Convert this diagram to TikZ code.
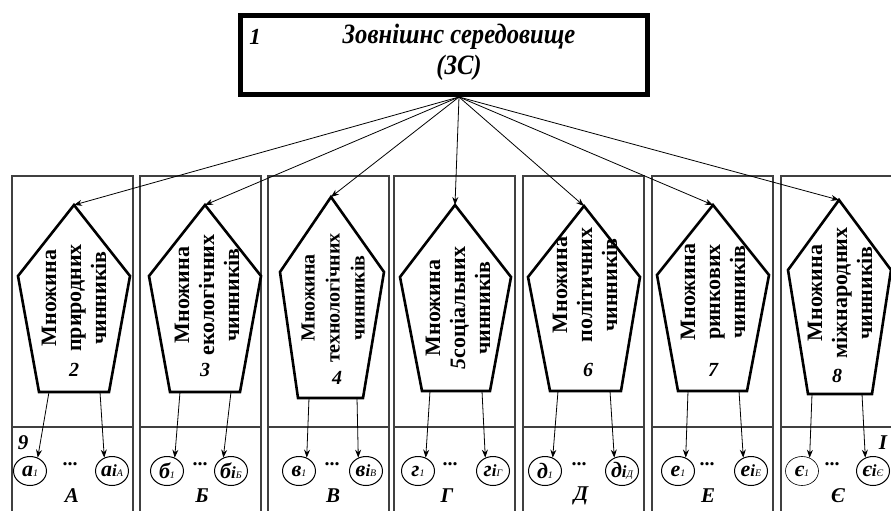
\documentclass[tikz,border=0pt]{standalone}
\usepackage{fontspec}
\setmainfont{Liberation Serif}
\newfontfamily\narrowserif[FakeStretch=0.88]{Liberation Serif}
\usetikzlibrary{arrows.meta,shapes.geometric}
\newcommand{\elsub}[1]{{\fontsize{10}{10}\selectfont\mdseries #1}}
\newcommand{\eli}{{\fontsize{17}{17}\selectfont i}}
\tikzset{
  colframe/.style={draw=black!75, line width=1.3pt},
  pent/.style={draw, line width=2.6pt, line join=miter},
  link/.style={-{Stealth[length=8pt,width=6pt]}, line width=0.8pt},
  mnozh/.style={rotate=90, align=center, font=\bfseries\fontsize{22}{25}\selectfont},
  nomer/.style={font=\bfseries\itshape\fontsize{20}{20}\selectfont},
  elem/.style={draw, ellipse, line width=1pt, minimum width=33pt, minimum height=29pt, inner sep=0pt, font=\bfseries\itshape\fontsize{22}{22}\selectfont},
  grpname/.style={font=\bfseries\itshape\fontsize{21}{21}\selectfont},
  tochky/.style={font=\bfseries\fontsize{20}{20}\selectfont},
  title/.style={align=center, font=\narrowserif\bfseries\itshape\fontsize{28}{31}\selectfont}
}
\begin{document}
\begin{tikzpicture}[x=1pt,y=-1pt]
\useasboundingbox (0,0) rectangle (891,511);
\clip (0,0) rectangle (891,511);
%\draw [very thin, gray] (0,0) grid[step=50] (891,511);
\node[draw, line width=5pt, minimum width=407pt, minimum height=79pt] (zs) at (444,55) {};
\node[title] (zst) at (459,52) {Зовнішнс середовище\\(ЗС)};
\node[grpname, font=\bfseries\itshape\fontsize{23}{23}\selectfont] (n1) at (255,37) {1};

% columns
\draw[colframe] (12,176) rectangle (133,520);
\draw[colframe] (12,427) -- (133,427);
\draw[colframe] (140,176) rectangle (261,520);
\draw[colframe] (140,427) -- (261,427);
\draw[colframe] (268,176) rectangle (389,520);
\draw[colframe] (268,427) -- (389,427);
\draw[colframe] (394,176) rectangle (515,520);
\draw[colframe] (394,427) -- (515,427);
\draw[colframe] (523,176) rectangle (644,520);
\draw[colframe] (523,427) -- (644,427);
\draw[colframe] (652,176) rectangle (773,520);
\draw[colframe] (652,427) -- (773,427);
\draw[colframe] (781,176) rectangle (902,520);
\draw[colframe] (781,427) -- (902,427);

% pentagons
\draw[pent] (74,205) coordinate (p1) -- (130,276) -- (109,392) -- (100,392) coordinate (p1r) -- (49,392) coordinate (p1l) -- (39,392) -- (18,276) -- cycle;
\draw[pent] (205,205) coordinate (p2) -- (261,276) -- (240,392) -- (231,392) coordinate (p2r) -- (180,392) coordinate (p2l) -- (170,392) -- (149,276) -- cycle;
\draw[pent] (331,197) coordinate (p3) -- (384,272) -- (363,398) -- (357,398) coordinate (p3r) -- (309,398) coordinate (p3l) -- (298,398) -- (280,272) -- cycle;
\draw[pent] (455,205) coordinate (p4) -- (511,277) -- (490,391) -- (482,391) coordinate (p4r) -- (430,391) coordinate (p4l) -- (422,391) -- (400,277) -- cycle;
\draw[pent] (584,206) coordinate (p5) -- (640,277) -- (621,391) -- (610,391) coordinate (p5r) -- (558,391) coordinate (p5l) -- (550,391) -- (528,277) -- cycle;
\draw[pent] (713,205) coordinate (p6) -- (769,275) -- (747,391) -- (739,391) coordinate (p6r) -- (688,391) coordinate (p6l) -- (678,391) -- (657,275) -- cycle;
\draw[pent] (839,200) coordinate (p7) -- (891,270) -- (872,394) -- (862,394) coordinate (p7r) -- (812,394) coordinate (p7l) -- (808,394) -- (788,270) -- cycle;

\node[mnozh] (t1) at (74,298) {Множина\\природних\\чинників};
\node[mnozh] (t2) at (207,295) {Множина\\екологічних\\чинників};
\node[mnozh, font=\bfseries\fontsize{20}{25}\selectfont] (t3) at (333,298) {Множина\\технологічних\\чинників};
\node[mnozh] (t4) at (458,308) {Множина\\{\itshape 5}соціальних\\чинників};
\node[mnozh] (t5) at (585,285) {Множина\\політичних\\чинників};
\node[mnozh] (t6) at (713,292) {Множина\\ринкових\\чинників};
\node[mnozh] (t7) at (840,293) {Множина\\міжнародних\\чинників};
\node[nomer] (n2) at (74,370) {2};
\node[nomer] (n3) at (205,370) {3};
\node[nomer] (n4) at (337,378) {4};
\node[nomer] (n6) at (588,370) {6};
\node[nomer] (n7) at (713,370) {7};
\node[nomer] (n8) at (837,376) {8};

% arrows from ZS
\draw[link] (zs.south -| zst) -- (p1);
\draw[link] (zs.south -| zst) -- (p2);
\draw[link] (zs.south -| zst) -- (p3);
\draw[link] (zs.south -| zst) -- (p4);
\draw[link] (zs.south -| zst) -- (p5);
\draw[link] (zs.south -| zst) -- (p6);
\draw[link] (zs.south -| zst) -- (p7);

% elements
\node[grpname] (n9) at (23,443) {9};
\node[grpname] (n10) at (883,443) {I};
\node[elem] (e1l) at (30,471) {а\elsub{1}};
\node[elem] (e1r) at (112,471) {а\eli\elsub{А}};
\node[elem] (e2l) at (167,471) {б\elsub{1}};
\node[elem] (e2r) at (231,471) {б\eli\elsub{Б}};
\node[elem] (e3l) at (299,471) {в\elsub{1}};
\node[elem] (e3r) at (366,471) {в\eli\elsub{В}};
\node[elem] (e4l) at (418,471) {г\elsub{1}};
\node[elem] (e4r) at (493,471) {г\eli\elsub{Г}};
\node[elem] (e5l) at (545,471) {д\elsub{1}};
\node[elem] (e5r) at (622,471) {д\eli\elsub{Д}};
\node[elem] (e6l) at (678,471) {е\elsub{1}};
\node[elem] (e6r) at (751,471) {е\eli\elsub{Е}};
\node[elem, line width=0.6pt] (e7l) at (802,471) {є\elsub{1}};
\node[elem] (e7r) at (873,471) {є\eli\elsub{Є}};

\draw[link] (p1l) -- (e1l.60);
\draw[link] (p1r) -- (e1r.120);
\draw[link] (p2l) -- (e2l.60);
\draw[link] (p2r) -- (e2r.120);
\draw[link] (p3l) -- (e3l.60);
\draw[link] (p3r) -- (e3r.120);
\draw[link] (p4l) -- (e4l.60);
\draw[link] (p4r) -- (e4r.120);
\draw[link] (p5l) -- (e5l.60);
\draw[link] (p5r) -- (e5r.120);
\draw[link] (p6l) -- (e6l.60);
\draw[link] (p6r) -- (e6r.120);
\draw[link] (p7l) -- (e7l.60);
\draw[link] (p7r) -- (e7r.120);

\node[tochky] (d1) at (70,464) {...};
\node[tochky] (d2) at (200,464) {...};
\node[tochky] (d3) at (332,464) {...};
\node[tochky] (d4) at (450,464) {...};
\node[tochky] (d5) at (579,464) {...};
\node[tochky] (d6) at (707,464) {...};
\node[tochky] (d7) at (832,464) {...};
\node[grpname] (g1) at (72,496) {А};
\node[grpname] (g2) at (202,496) {Б};
\node[grpname] (g3) at (333,496) {В};
\node[grpname] (g4) at (447,496) {Г};
\node[grpname] (g5) at (581,496) {Д};
\node[grpname] (g6) at (708,496) {Е};
\node[grpname] (g7) at (838,496) {Є};
\end{tikzpicture}
\end{document}
